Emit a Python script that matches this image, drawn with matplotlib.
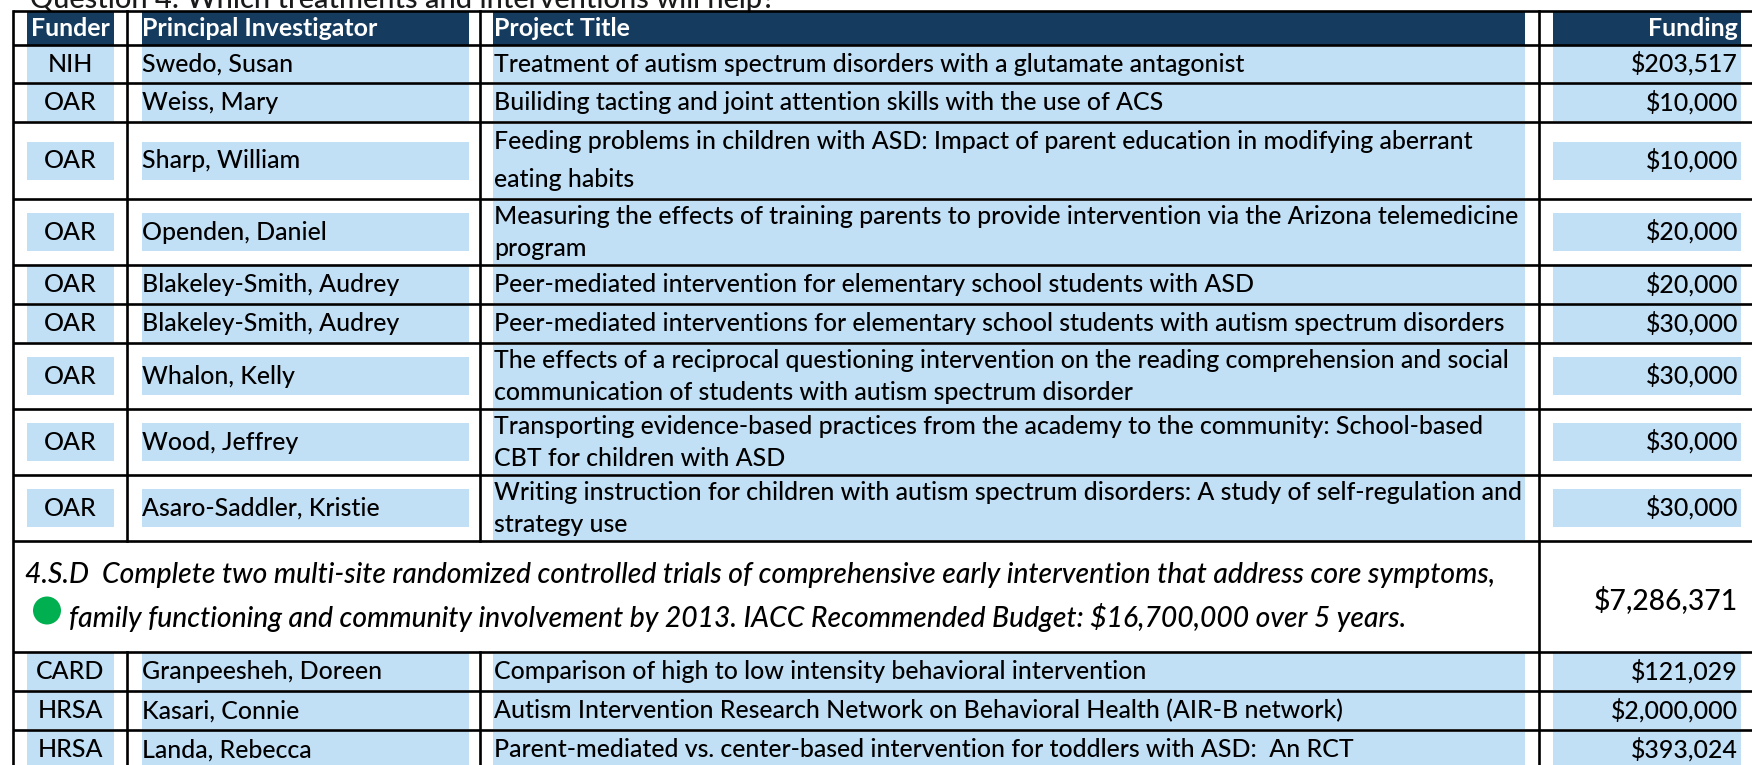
import matplotlib
matplotlib.use('Agg')
import matplotlib.pyplot as plt
from matplotlib.patches import Rectangle, Circle
from matplotlib.textpath import TextPath
from matplotlib.font_manager import FontProperties

#%% Data
heading = 'Question 4: Which treatments and interventions will help?'
col_names = ['Funder', 'Principal Investigator', 'Project Title', 'Funding']

funders_a = ['NIH', 'OAR', 'OAR', 'OAR', 'OAR', 'OAR', 'OAR', 'OAR', 'OAR']
investigators_a = ['Swedo, Susan', 'Weiss, Mary', 'Sharp, William', 'Openden, Daniel',
                   'Blakeley-Smith, Audrey', 'Blakeley-Smith, Audrey', 'Whalon, Kelly',
                   'Wood, Jeffrey', 'Asaro-Saddler, Kristie']
titles_a = ['Treatment of autism spectrum disorders with a glutamate antagonist',
            'Builiding tacting and joint attention skills with the use of ACS',
            'Feeding problems in children with ASD: Impact of parent education in modifying aberrant\neating habits',
            'Measuring the effects of training parents to provide intervention via the Arizona telemedicine\nprogram',
            'Peer-mediated intervention for elementary school students with ASD',
            'Peer-mediated interventions for elementary school students with autism spectrum disorders',
            'The effects of a reciprocal questioning intervention on the reading comprehension and social\ncommunication of students with autism spectrum disorder',
            'Transporting evidence-based practices from the academy to the community: School-based\nCBT for children with ASD',
            'Writing instruction for children with autism spectrum disorders: A study of self-regulation and\nstrategy use']
funding_a = [203517, 10000, 10000, 20000, 20000, 30000, 30000, 30000, 30000]

objective_code = '4.S.D'
objective_lines = ['Complete two multi-site randomized controlled trials of comprehensive early intervention that address core symptoms,',
                   'family functioning and community involvement by 2013. IACC Recommended Budget: $16,700,000 over 5 years.']
objective_funding = 7286371

funders_b = ['CARD', 'HRSA', 'HRSA']
investigators_b = ['Granpeesheh, Doreen', 'Kasari, Connie', 'Landa, Rebecca']
titles_b = ['Comparison of high to low intensity behavioral intervention',
            'Autism Intervention Research Network on Behavioral Health (AIR-B network)',
            'Parent-mediated vs. center-based intervention for toddlers with ASD:  An RCT']
funding_b = [121029, 2000000, 393024]

#%% Layout settings (pixels)
W, H, DPI = 1752, 765, 100
FONT = 'Lato'
WEIGHT = 'medium'
NAVY = '#153B5E'
SHADE = '#C1DFF5'
GREEN = '#00B050'

TOP = 11
HEADER_BOT = 45
ROW_H_A = [38, 39, 77, 66, 39, 39, 66, 66, 66]
LINE_SP_A = [32, 32, 38, 32, 32, 32, 32, 32, 32]
OBJ_H = 111
ROW_H_B = [39, 39, 39]

X_LEFT = 13
X_DIV = [127, 480, 1539]
FUNDER_BAND = (27, 114)
PI_BAND = (142, 469)
TITLE_BAND = (493, 1525)
FUND_BAND = (1553, 1741)
BAND_H = 38
LW = 1.9


def fit_size(s, width_px, **kw):
    fp = FontProperties(family=FONT, **kw)
    w = TextPath((0, 0), s, size=100, prop=fp).get_extents().width
    return 100 * width_px * 72 / (DPI * w)


body_size = fit_size(titles_a[5], 1502 - 494, weight=WEIGHT)
big_size = fit_size(objective_code + '  ' + objective_lines[0], 1490 - 25,
                    style='italic', weight=WEIGHT)
head_size = fit_size(heading, 772 - 30, weight=WEIGHT)
cap = 0.72 * body_size * DPI / 72
big_cap = 0.72 * big_size * DPI / 72

fig = plt.figure(figsize=(W / DPI, H / DPI), dpi=DPI)
ax = fig.add_axes([0, 0, 1, 1])
ax.set_xlim(0, W)
ax.set_ylim(H, 0)
ax.axis('off')


def band(x0x1, yc, h, color):
    ax.add_patch(Rectangle((x0x1[0], yc - h / 2), x0x1[1] - x0x1[0], h,
                           facecolor=color, edgecolor='none', zorder=1))


def put(x, yc, s, ha='left', size=None, c=None, **kw):
    size = size or body_size
    c = c or cap
    kw.setdefault('weight', WEIGHT)
    ax.text(x, yc + c / 2 - 1, s, ha=ha, va='baseline', fontsize=size,
            family=FONT, color=kw.pop('color', 'black'), zorder=3, **kw)


# heading, cut by the top edge as in the source page
ax.text(30, 8, heading, ha='left', va='baseline', fontsize=head_size, family=FONT,
        weight=WEIGHT, color='#1a1a1a', zorder=3)

# header
yc = (TOP + HEADER_BOT) / 2
hh = HEADER_BOT - TOP
for b in [FUNDER_BAND, PI_BAND, TITLE_BAND, FUND_BAND]:
    band(b, yc, hh, NAVY)
put(sum(FUNDER_BAND) / 2, yc, col_names[0], ha='center', color='white', weight='bold')
put(PI_BAND[0], yc, col_names[1], color='white', weight='bold')
put(TITLE_BAND[0] + 1, yc, col_names[2], color='white', weight='bold')
put(1738, yc, col_names[3], ha='right', color='white', weight='bold')


def data_rows(y0, heights, spacings, funders, pis, titles, funds):
    edges = [y0]
    for h, sp, f, p, t, v in zip(heights, spacings, funders, pis, titles, funds):
        top = edges[-1]
        bot = top + h
        c = (top + bot) / 2
        band(FUNDER_BAND, c, min(BAND_H, h - 2), SHADE)
        band(PI_BAND, c, min(BAND_H, h - 2), SHADE)
        band(FUND_BAND, c, min(BAND_H, h - 2), SHADE)
        band(TITLE_BAND, c, h - 3, SHADE)
        put(sum(FUNDER_BAND) / 2, c, f, ha='center')
        put(PI_BAND[0], c, p)
        lines = t.split('\n')
        n = len(lines)
        for i, ln in enumerate(lines):
            put(TITLE_BAND[0] + 1, c + (i - (n - 1) / 2) * sp, ln)
        put(1738, c, '${:,}'.format(v), ha='right')
        edges.append(bot)
    return edges


edges_a = data_rows(HEADER_BOT, ROW_H_A, LINE_SP_A, funders_a, investigators_a,
                    titles_a, funding_a)
obj_top = edges_a[-1]
obj_bot = obj_top + OBJ_H
oc = (obj_top + obj_bot) / 2
put(25, oc - 23, objective_code + '  ' + objective_lines[0], size=big_size, c=big_cap,
    style='italic')
put(69, oc + 21, objective_lines[1], size=big_size, c=big_cap, style='italic')
ax.add_patch(Circle((47, oc + 14), 14, facecolor=GREEN, edgecolor='none', zorder=2))
put(1738, oc + 3, '${:,}'.format(objective_funding), ha='right', size=big_size, c=big_cap)

edges_b = data_rows(obj_bot, ROW_H_B, [32] * 3, funders_b, investigators_b, titles_b,
                    funding_b)

# grid lines
for y in [TOP] + edges_a + edges_b:
    ax.plot([X_LEFT, W], [y, y], color='black', lw=LW, solid_capstyle='butt', zorder=4)
ax.plot([X_LEFT, X_LEFT], [TOP, H + 5], color='black', lw=LW, zorder=4)
for x in X_DIV[:2]:
    ax.plot([x, x], [TOP, obj_top], color='black', lw=LW, zorder=4)
    ax.plot([x, x], [obj_bot, H + 5], color='black', lw=LW, zorder=4)
ax.plot([X_DIV[2], X_DIV[2]], [TOP, H + 5], color='black', lw=LW, zorder=4)

fig.savefig('out.png', dpi=DPI)
